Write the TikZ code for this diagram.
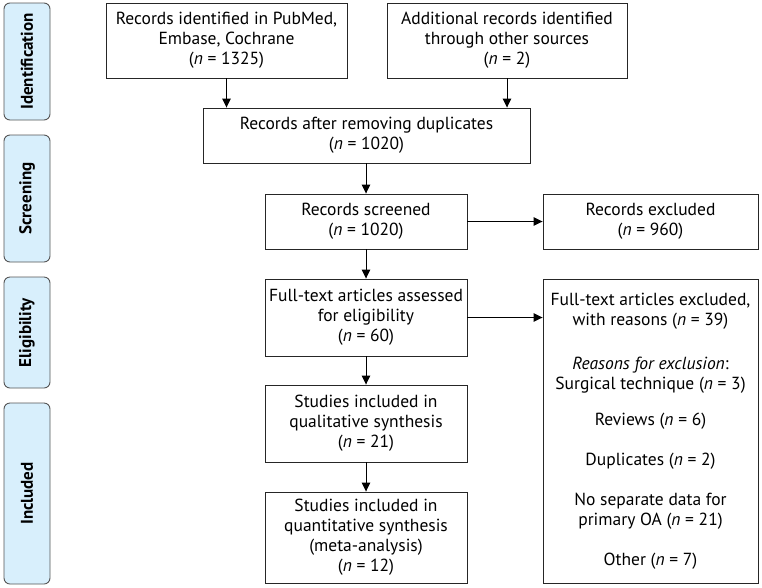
\documentclass[tikz,border=0pt]{standalone}
\usepackage{fontspec}
\setmainfont{PT Sans}
\usepackage{xcolor}
\usetikzlibrary{arrows.meta}
\usetikzlibrary{positioning}
\tikzset{>={Triangle[length=9pt,width=8.5pt]}}
\definecolor{stagefill}{HTML}{D8EFFC}
\definecolor{stageline}{HTML}{555555}
\tikzset{box/.style={draw=black!85, rectangle, align=center, inner sep=0pt, line width=0.9pt, font=\fontsize{17.5}{20}\selectfont},
         stage/.style={draw=stageline, fill=stagefill, rounded corners=6pt, line width=0.9pt, minimum width=46pt, inner sep=0pt}}
\newcommand{\nn}[1]{(\textit{n} = #1)}

\begin{document}
\begin{tikzpicture}[x=1pt, y=-1pt, thick, line width=0.9pt]
                \useasboundingbox (0,0) rectangle (762,587);
                % Stages
                \node [stage, minimum height=117pt] (Sid) at (27,61.5) {};
                \node [stage, minimum height=127pt] (Sscr) at (27,198.5) {};
                \node [stage, minimum height=111pt] (Seli) at (27,332.5) {};
                \node [stage, minimum height=181pt] (Sinc) at (27,493.5) {};
                \foreach \s/\t in {Sid/Identification, Sscr/Screening, Seli/Eligibility, Sinc/Included}
                    \node [rotate=90, font=\fontsize{17}{20}\selectfont\bfseries] at (\s) {\t};

                % Nodes
                \node [box, minimum width=241pt, minimum height=75pt] (R) at (226.5,40.5) {Records identified in PubMed,\\ Embase, Cochrane\\ \nn{1325}};
                \node [box, minimum width=240pt, minimum height=75pt] (A) at (507,40.5) {Additional records identified\\ through other sources\\ \nn{2}};
                \node [box, minimum width=327pt, minimum height=55pt] (D) at (366.5,135.5) {Records after removing duplicates\\ \nn{1020}};
                \node [box, minimum width=202pt, minimum height=55pt] (S) at (366,221.5) {Records screened\\ \nn{1020}};
                \node [box, minimum width=215pt, minimum height=55pt] (X) at (650.5,221.5) {Records excluded\\ \nn{960}};
                \node [box, minimum width=202pt, minimum height=77pt] (F) at (366,317.5) {Full-text articles assessed\\ for eligibility\\ \nn{60}};
                \node [box, minimum width=215pt, minimum height=304pt] (E) at (650.5,431) {Full-text articles excluded,\\ with reasons \nn{39}\\[24pt] \textit{Reasons for exclusion}:\\ Surgical technique \nn{3}\\[16pt] Reviews \nn{6}\\[20pt] Duplicates \nn{2}\\[20pt] No separate data for\\ primary OA \nn{21}\\[20pt] Other \nn{7}};
                \node [box, minimum width=202pt, minimum height=77pt] (Q) at (366,423.5) {Studies included in\\ qualitative synthesis\\ \nn{21}};
                \node [box, minimum width=202pt, minimum height=91pt] (M) at (366,537.5) {Studies included in\\ quantitative synthesis\\ (meta-analysis)\\ \nn{12}};

                % Arrows
                \draw[->] (R.south) -- (R.south |- D.north);
                \draw[->] (A.south) -- (A.south |- D.north);
                \draw[->] (D.south -| S.north) -- (S.north);
                \draw[->] (S.east) -- (X.west);
                \draw[->] (S.south) -- (F.north);
                \draw[->] (F.east) -- (F.east -| E.west);
                \draw[->] (F.south) -- (Q.north);
                \draw[->] (Q.south) -- (M.north);
            \end{tikzpicture}
\end{document}
